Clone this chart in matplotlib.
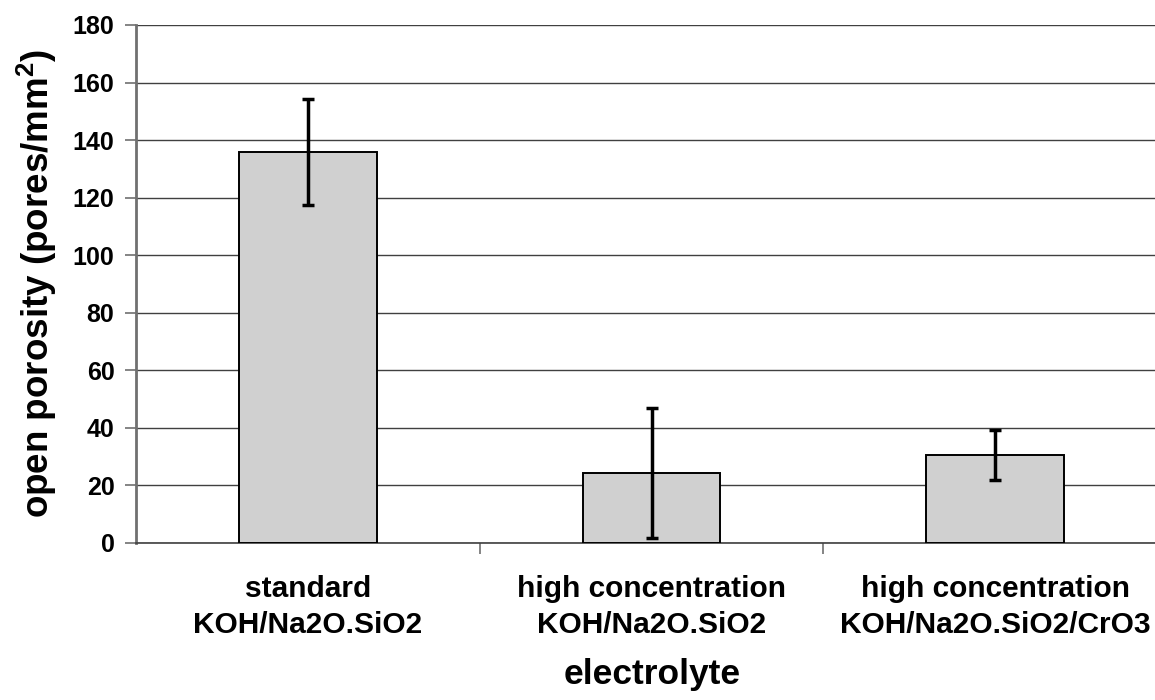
import numpy as np
import matplotlib
matplotlib.use("Agg")
import matplotlib.pyplot as plt

# data
categories = ["standard\nKOH/Na2O.SiO2",
              "high concentration\nKOH/Na2O.SiO2",
              "high concentration\nKOH/Na2O.SiO2/CrO3"]
porosity = [136.0, 24.3, 30.5]
errors = [18.4, 22.6, 8.6]
y_ticks = [0, 20, 40, 60, 80, 100, 120, 140, 160, 180]

plt.rcParams['font.family'] = ['Liberation Sans', 'DejaVu Sans']
plt.rcParams['font.weight'] = 'bold'
plt.rcParams['mathtext.fontset'] = 'custom'
plt.rcParams['mathtext.rm'] = 'Liberation Sans:bold'
plt.rcParams['mathtext.it'] = 'Liberation Sans:bold'
plt.rcParams['mathtext.bf'] = 'Liberation Sans:bold'

fig = plt.figure(figsize=(11.55, 7.0), dpi=100)
W, H = 1155, 700
# the plot area runs off the right edge in the reference
ax = fig.add_axes([136 / W, (H - 543) / H, (1167 - 136) / W, (543 - 25) / H])
ax_w, ax_h = 1167 - 136, 543 - 25

x = np.arange(len(categories))
ax.bar(x, porosity, width=0.4, color='#d0d0d0', edgecolor='black',
       linewidth=1.4, zorder=3)
ax.errorbar(x, porosity, yerr=errors, fmt='none', ecolor='black',
            elinewidth=2.5, capsize=4.5, capthick=2.5, zorder=4)

ax.set_xlim(-0.5, 2.5)
ax.set_ylim(0, 180)
ax.set_yticks(y_ticks)
ax.yaxis.grid(True, color='#404040', linewidth=1.0, zorder=0)
ax.set_axisbelow(True)

ax.set_xticks(x)
ax.set_xticklabels(categories, fontsize=21.5, fontweight='bold', linespacing=1.35)
ax.tick_params(axis='x', which='major', length=0, pad=23)
ax.set_xticks([0.5, 1.5], minor=True)
ax.tick_params(axis='x', which='minor', length=8, width=1.2, color='#707070',
               direction='out')
ax.tick_params(axis='y', length=8, width=1.2, color='#707070', labelsize=18,
               pad=7.5)
for lab in ax.get_yticklabels():
    lab.set_fontweight('bold')

for side in ['top', 'right']:
    ax.spines[side].set_visible(False)
ax.spines['left'].set_color('#707070')
ax.spines['left'].set_linewidth(2)
ax.spines['bottom'].set_color('#404040')
ax.spines['bottom'].set_linewidth(1.2)

ax.set_ylabel('open porosity (pores/mm$^2$)', fontsize=26.5, fontweight='bold')
ax.set_xlabel('electrolyte', fontsize=25.5, fontweight='bold')
ax.xaxis.set_label_coords((652 - 136) / ax_w, -(658 - 543) / ax_h)
ax.yaxis.set_label_coords(-(136 - 59) / ax_w, (543 - 283) / ax_h)

fig.savefig('out.png', dpi=100)
